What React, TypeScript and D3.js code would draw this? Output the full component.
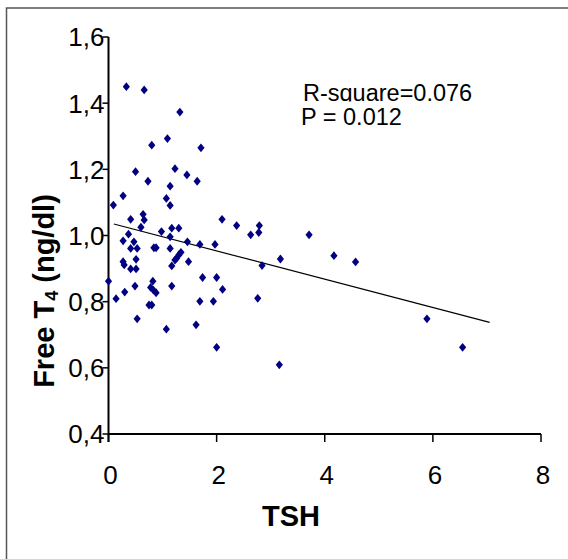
import React from 'react';
import * as d3 from 'd3';

const tshValues = [
  0.33, 0.66, 1.32, 1.09, 0.80, 1.71, 0.50, 1.23, 1.45, 0.73,
  1.64, 1.14, 0.27, 0.09, 1.07, 1.14, 0.41, 0.64, 0.66, 0.60,
  1.17, 1.30, 2.10, 2.37, 0.98, 0.37, 0.27, 0.47, 0.41, 0.53,
  0.84, 0.88, 1.14, 1.14, 1.46, 1.69, 1.97, 2.63, 2.78, 2.79,
  3.71, 1.34, 1.30, 1.26, 1.23, 1.48, 1.17, 0.51, 0.27, 0.29,
  0.41, 0.51, 3.18, 2.84, 4.17, 4.57, 0.00, 0.14, 0.30, 0.49,
  0.82, 0.78, 0.83, 0.88, 0.75, 0.80, 0.53, 1.17, 1.74, 2.00,
  2.11, 1.69, 1.94, 2.76, 1.07, 1.62, 5.89, 2.00, 6.55, 3.16,
];
const ft4Values = [
  1.450, 1.440, 1.373, 1.293, 1.273, 1.265, 1.193, 1.202, 1.183, 1.164,
  1.164, 1.149, 1.120, 1.092, 1.112, 1.091, 1.049, 1.064, 1.047, 1.025,
  1.022, 1.022, 1.049, 1.030, 1.012, 1.004, 0.984, 0.981, 0.961, 0.961,
  0.963, 0.963, 0.961, 0.996, 0.981, 0.973, 0.973, 1.002, 1.009, 1.030,
  1.002, 0.949, 0.941, 0.931, 0.926, 0.921, 0.908, 0.928, 0.921, 0.911,
  0.899, 0.899, 0.929, 0.909, 0.939, 0.920, 0.862, 0.809, 0.829, 0.847,
  0.862, 0.843, 0.835, 0.827, 0.790, 0.790, 0.748, 0.847, 0.873, 0.873,
  0.837, 0.801, 0.801, 0.810, 0.717, 0.730, 0.748, 0.662, 0.662, 0.609,
];
const xTicks = [0, 2, 4, 6, 8];
const yTicks = [0.4, 0.6, 0.8, 1.0, 1.2, 1.4, 1.6];
const fitCoefficients = [1.039, -0.0428];
const fitRange = [0.1, 7.05];
const statLines = ['R-square=0.076', 'P = 0.012'];

const FONT = "Arial, 'Liberation Sans', sans-serif";

export default function App() {
  const x = d3.scaleLinear().domain([0, 8]).range([108.5, 541]);
  const y = d3.scaleLinear().domain([0.4, 1.6]).range([434, 37]);
  const fmtY = (v: number) => d3.format('.1f')(v).replace('.', ',');
  const diamond = 'M0,-4.4L3.6,0L0,4.4L-3.6,0Z';
  const fitLine = d3
    .line<number>()
    .x((d) => x(d))
    .y((d) => y(fitCoefficients[0] + fitCoefficients[1] * d))(fitRange);

  return (
    <svg
      width={568}
      height={559}
      style={{ position: 'absolute', left: 0, top: 0, background: '#fff' }}
    >
      <defs>
        <clipPath id="rsqClip">
          <rect x={280} y={60} width={250} height={41.5} />
        </clipPath>
      </defs>
      <rect x={0} y={0} width={568} height={559} fill="#fff" />
      {/* outer border */}
      <path d="M6.5,570 L6.5,8 L580,8" fill="none" stroke="#555" strokeWidth={1.5} />

      {/* y axis */}
      <line x1={x(0)} x2={x(0)} y1={y(1.6)} y2={y(0.4) + 8} stroke="#000" strokeWidth={2} />
      {yTicks.map((t) => (
        <g key={'yt' + t}>
          <line x1={x(0) - 6} x2={x(0)} y1={y(t)} y2={y(t)} stroke="#000" strokeWidth={1.5} />
          <text
            x={104.5}
            y={y(t)}
            dy="0.36em"
            textAnchor="end"
            fontFamily={FONT}
            fontSize={26}
            fill="#000"
          >
            {fmtY(t)}
          </text>
        </g>
      ))}

      {/* x axis */}
      <line x1={x(0)} x2={x(8)} y1={y(0.4)} y2={y(0.4)} stroke="#000" strokeWidth={2} />
      {xTicks.map((t) => (
        <g key={'xt' + t}>
          <line x1={x(t)} x2={x(t)} y1={y(0.4)} y2={y(0.4) + 8} stroke="#000" strokeWidth={1.5} />
          <text
            x={x(t) + 2}
            y={483.5}
            textAnchor="middle"
            fontFamily={FONT}
            fontSize={26}
            fill="#000"
          >
            {t}
          </text>
        </g>
      ))}

      {/* axis titles */}
      <text
        x={291}
        y={526}
        textAnchor="middle"
        fontFamily={FONT}
        fontSize={29}
        fontWeight="bold"
        fill="#000"
      >
        TSH
      </text>
      <text
        transform="translate(54,291) rotate(-90)"
        textAnchor="middle"
        fontFamily={FONT}
        fontSize={29}
        fontWeight="bold"
        fill="#000"
      >
        Free T
        <tspan fontSize={18} dy={4}>4</tspan>
        <tspan dy={-4}> (ng/dl)</tspan>
      </text>

      {/* regression line */}
      <path d={fitLine || ''} fill="none" stroke="#000" strokeWidth={1.2} />

      {/* points */}
      {tshValues.map((v, i) => (
        <path
          key={'p' + i}
          d={diamond}
          transform={`translate(${x(v)},${y(ft4Values[i])})`}
          fill="#000080"
        />
      ))}

      {/* stats */}
      <text
        x={303}
        y={100.5}
        fontFamily={FONT}
        fontSize={23.5}
        fill="#000"
        clipPath="url(#rsqClip)"
      >
        {statLines[0]}
      </text>
      <text x={301} y={125} fontFamily={FONT} fontSize={23.5} fill="#000">
        {statLines[1]}
      </text>
    </svg>
  );
}
